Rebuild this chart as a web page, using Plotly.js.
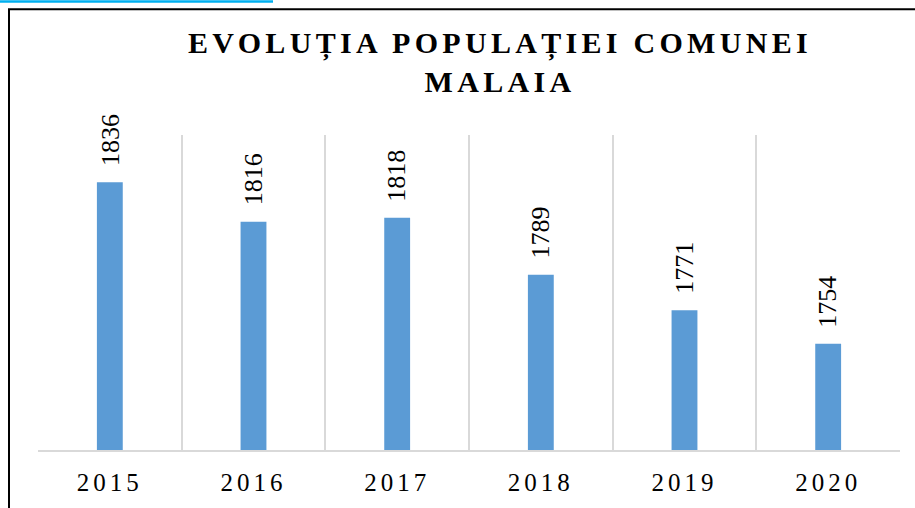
<!DOCTYPE html>
<html>
<head>
<meta charset="utf-8">
<script src="https://cdn.plot.ly/plotly-3.0.1.min.js"></script>
<style>
  html, body { margin: 0; padding: 0; background: #fff; }
  #chart { width: 915px; height: 508px; }
  #chart .gtitle { letter-spacing: 4.3px; }
  #chart .xtick text { letter-spacing: 4px; }
</style>
</head>
<body>
<div id="chart"></div>
<script>
// ---- data ----
const years = ['2015', '2016', '2017', '2018', '2019', '2020'];
const population = [1836, 1816, 1818, 1789, 1771, 1754];
const chartTitle = 'EVOLUȚIA POPULAȚIEI COMUNEI<br>MALAIA';

const serif = '"Liberation Serif", "Times New Roman", serif';

const trace = {
  type: 'bar',
  x: years,
  y: population,
  marker: { color: '#5B9BD5' },
  hoverinfo: 'x+y'
};

const labels = years.map((yr, i) => ({
  x: i,
  y: population[i],
  xref: 'x',
  yref: 'y',
  text: String(population[i]),
  textangle: -90,
  showarrow: false,
  xanchor: 'center',
  yanchor: 'bottom',
  yshift: 14,
  font: { family: serif, size: 26, color: '#000' }
}));

const W = 915, H = 508;
const mL = 38, mR = 15, mT = 135, mB = 57.5;
const pw = W - mL - mR, ph = H - mT - mB;
const px = v => (v - mL) / pw;
const py = v => (H - mB - v) / ph;

const layout = {
  width: W,
  height: H,
  margin: { l: mL, r: mR, t: mT, b: mB, pad: 0 },
  paper_bgcolor: '#fff',
  plot_bgcolor: '#fff',
  showlegend: false,
  bargap: 0.82,
  title: {
    text: chartTitle,
    font: { family: serif, size: 30, weight: 'bold', color: '#000' },
    xref: 'container',
    yref: 'container',
    x: 500 / W,
    xanchor: 'center',
    y: 1 - 53 / H,
    yanchor: 'top'
  },
  xaxis: {
    type: 'category',
    range: [-0.5, years.length - 0.5],
    autorange: false,
    tickson: 'boundaries',
    showgrid: true,
    gridcolor: '#D9D9D9',
    gridwidth: 1.8,
    showline: true,
    linecolor: '#D9D9D9',
    linewidth: 1.8,
    ticks: '',
    tickangle: 0,
    ticklabelstandoff: 9,
    tickfont: { family: serif, size: 25, color: '#000' },
    fixedrange: true
  },
  yaxis: {
    range: [1700, 1860],
    autorange: false,
    showgrid: false,
    zeroline: false,
    showline: false,
    showticklabels: false,
    ticks: '',
    fixedrange: true
  },
  annotations: labels,
  shapes: [
    { type: 'rect', xref: 'paper', yref: 'paper',
      x0: px(9), x1: px(W + 20), y0: py(H + 20), y1: py(9),
      line: { color: '#000', width: 2 }, fillcolor: 'rgba(0,0,0,0)', layer: 'above' },
    { type: 'rect', xref: 'paper', yref: 'paper',
      x0: px(0), x1: px(273), y0: py(2.5), y1: py(0),
      line: { width: 0 }, fillcolor: '#00B0F0', layer: 'above' }
  ]
};

Plotly.newPlot('chart', [trace], layout, { displayModeBar: false, staticPlot: true });
</script>
</body>
</html>
